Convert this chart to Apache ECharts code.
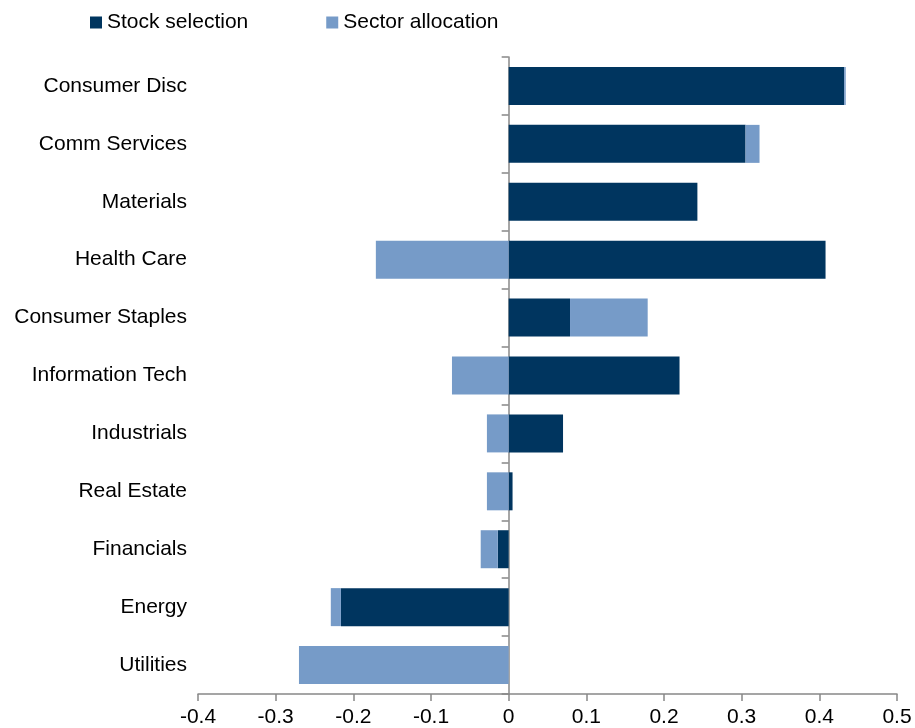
<!DOCTYPE html>
<html>
<head>
<meta charset="utf-8">
<script src="https://cdn.jsdelivr.net/npm/echarts@6/dist/echarts.min.js"></script>
<style>
  html, body { margin: 0; padding: 0; background: #fff; }
  #chart { width: 915px; height: 728px; }
</style>
</head>
<body>
<div id="chart"></div>
<script>
// categories listed bottom to top (category axis draws first item at the bottom)
const sectors = [
  "Utilities", "Energy", "Financials", "Real Estate", "Industrials",
  "Information Tech", "Consumer Staples", "Health Care", "Materials",
  "Comm Services", "Consumer Disc"
];
const stockSelection = [0, -0.216, -0.014, 0.005, 0.07, 0.22, 0.079, 0.408, 0.243, 0.305, 0.432];
const sectorAllocation = [-0.27, -0.013, -0.022, -0.028, -0.028, -0.073, 0.1, -0.171, 0, 0.018, 0.002];
const xTicks = [-0.4, 0.5, 0.1];  // min, max, step

const font = "'Liberation Sans', Arial, sans-serif";

const chart = echarts.init(document.getElementById("chart"));
const option = {
  animation: false,
  legend: {
    left: 85,
    top: 7,
    itemWidth: 12,
    itemHeight: 12,
    itemGap: 78,
    icon: "rect",
    textStyle: { fontFamily: font, fontSize: 21, color: "#000" },
    data: ["Stock selection", "Sector allocation"],
  },
  grid: { left: 198, right: 18, top: 57, bottom: 33, containLabel: false },
  xAxis: {
    type: "value",
    min: xTicks[0],
    max: xTicks[1],
    interval: xTicks[2],
    splitLine: { show: false },
    axisLine: { show: true, lineStyle: { color: "#888", width: 1.5 } },
    axisTick: { show: true, length: 7, lineStyle: { color: "#888", width: 1.5 } },
    axisLabel: {
      fontFamily: font,
      fontSize: 21,
      color: "#000",
      margin: 13,
      formatter: (v) => (Math.abs(v) < 1e-9 ? "0" : String(Math.round(v * 10) / 10)),
    },
  },
  yAxis: [
    {
      type: "category",
      data: sectors,
      axisLine: { show: false },
      axisTick: { show: false },
      axisLabel: { fontFamily: font, fontSize: 21, color: "#000", margin: 11 },
    },
    {
      // zero line with small ticks at category boundaries
      type: "category",
      data: sectors,
      position: "left",
      axisLine: { show: true, onZero: true, onZeroAxisIndex: 0, lineStyle: { color: "#888", width: 1.5 } },
      axisTick: { show: true, length: 7, lineStyle: { color: "#888", width: 1.5 } },
      axisLabel: { show: false },
    },
  ],
  series: [
    {
      name: "Stock selection",
      type: "bar",
      stack: "total",
      barWidth: 38,
      itemStyle: { color: "#00355F" },
      data: stockSelection,
    },
    {
      name: "Sector allocation",
      type: "bar",
      stack: "total",
      barWidth: 38,
      itemStyle: { color: "#769BC8" },
      data: sectorAllocation,
    },
  ],
};
chart.setOption(option);
</script>
</body>
</html>
